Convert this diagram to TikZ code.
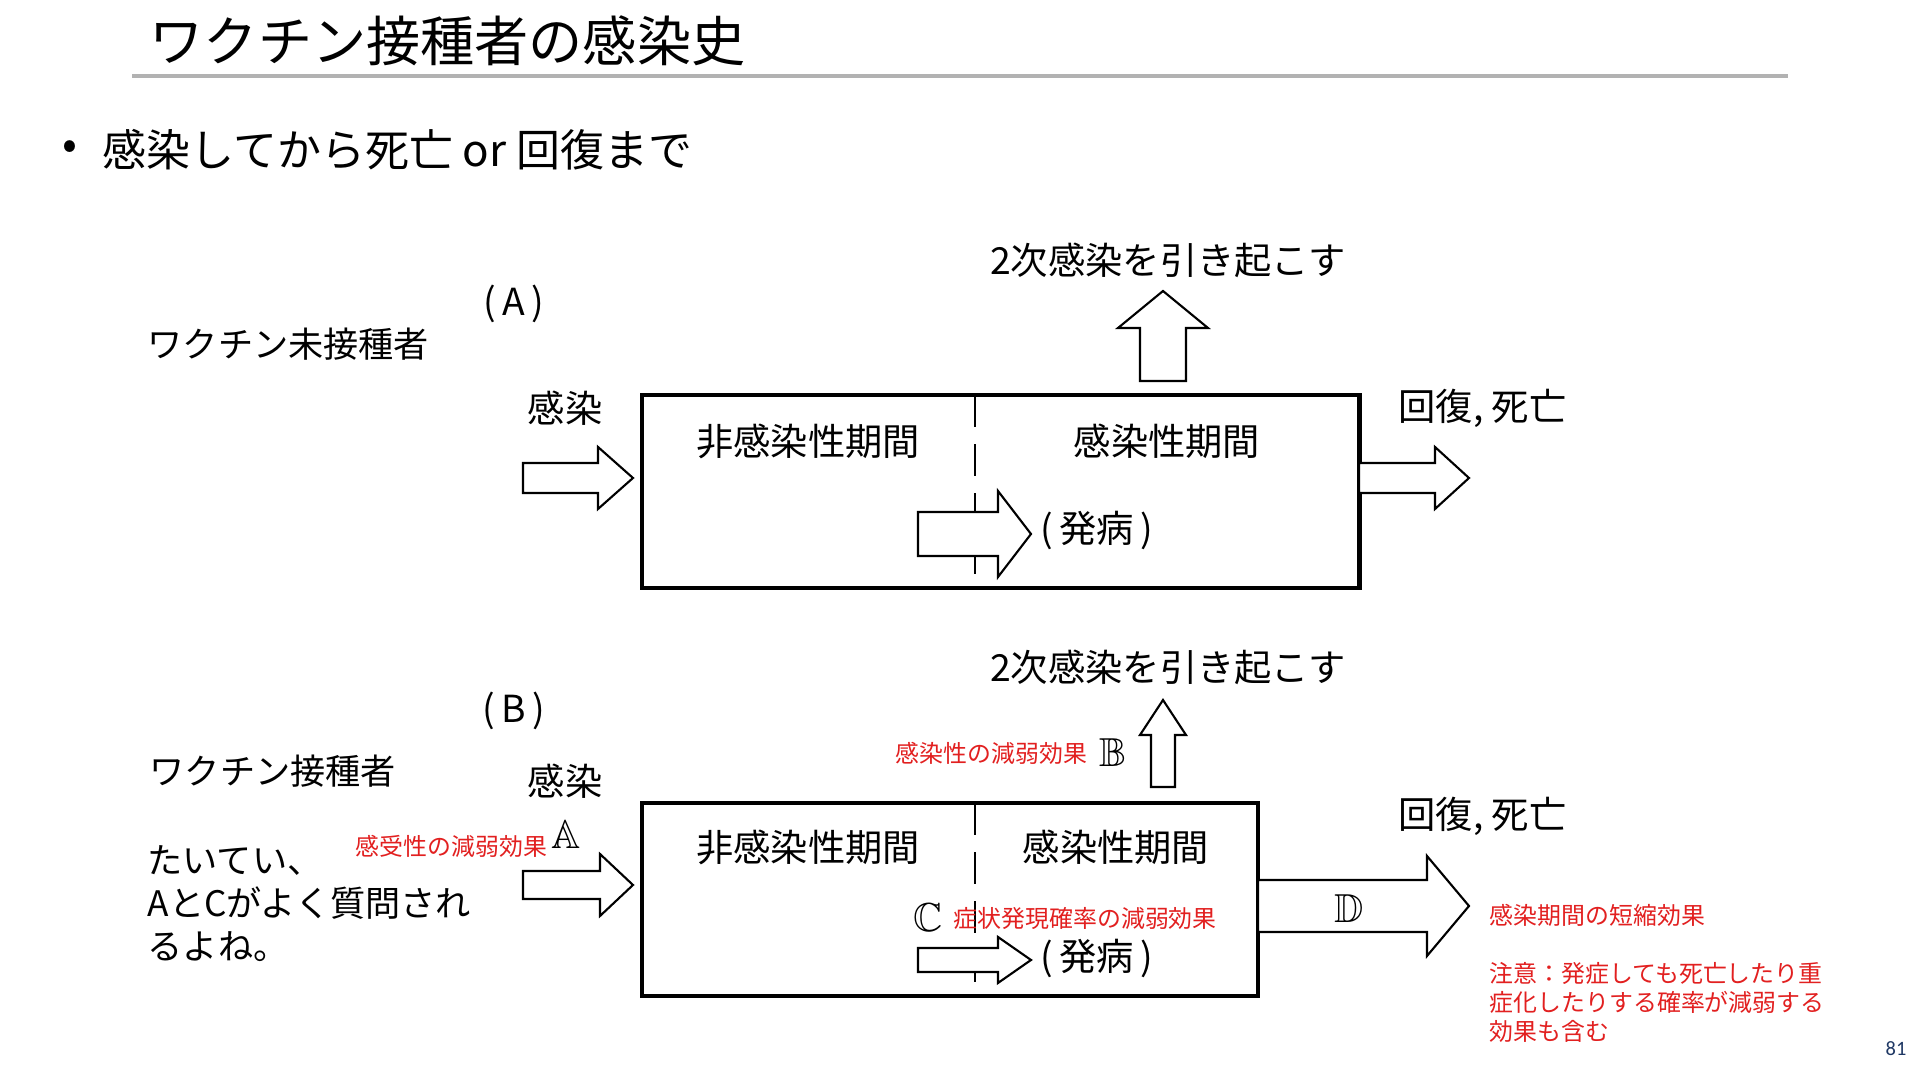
\documentclass[tikz,border=0pt]{standalone}
\usepackage{amssymb}
\usepackage{fontspec}
\setmainfont{Noto Sans CJK JP}
\newfontfamily\pagefont{Carlito}
\usetikzlibrary{positioning}
\definecolor{notered}{RGB}{226,32,32}
\definecolor{pagenum}{RGB}{31,56,100}

% hollow block arrows: start, head base, tip, centre, body half width, head half width
\newcommand{\hblockarrow}[6]{%
  \draw[blockarrow] (#1,#4-#5) -- (#2,#4-#5) -- (#2,#4-#6) -- (#3,#4) -- (#2,#4+#6) -- (#2,#4+#5) -- (#1,#4+#5) -- cycle;}
\newcommand{\vblockarrow}[6]{%
  \draw[blockarrow] (#1-#5,#2) -- (#1-#5,#3) -- (#1-#6,#3) -- (#1,#4) -- (#1+#6,#3) -- (#1+#5,#3) -- (#1+#5,#2) -- cycle;}

\begin{document}
\begin{tikzpicture}[x=0.01cm, y=-0.01cm,
    period/.style={rectangle, draw=black, line width=1.3pt, inner sep=0pt, minimum height=1.93cm},
    blockarrow/.style={draw=black, fill=white, line width=0.6pt, line join=miter},
    label/.style={inner sep=0pt, font=\fontsize{10.6}{12}\selectfont},
    note/.style={inner sep=0pt, text=notered, font=\fontsize{6.8}{8.25}\selectfont, anchor=west, align=left},
    letter/.style={inner sep=0pt, font=\fontsize{11.5}{12}\selectfont}
]
\fill[white] (0,0) rectangle (1920,1080);

% Title
\node[anchor=west, inner sep=0pt, font=\fontsize{15.4}{18}\selectfont] (title) at (149,41) {ワクチン接種者の感染史};
\draw[gray!60, line width=0.9pt] (132,76) -- (1788,76);
\node[inner sep=0pt, font=\fontsize{12.5}{14}\selectfont] (dot) at (70,150) {•};
\node[anchor=west, inner sep=0pt, font=\fontsize{12.5}{14}\selectfont] (bullet) at (102,150) {感染してから死亡 or 回復まで};

% (A) unvaccinated
\node[label] (labA) at (514,304) {(\,A\,)};
\node[label, anchor=west, font=\fontsize{10}{12}\selectfont] (unvac) at (147,344) {ワクチン未接種者};
\node[period, minimum width=7.17cm] (boxA) at (1000.5,491.5) {};
\draw[line width=0.5pt, dash pattern=on 9pt off 5pt] (975,395) -- (975,588);
\node[label] (nonA) at (808,441) {非感染性期間};
\node[label] (infA) at (1167,441) {感染性期間};
\node[label] (infectA) at (565,408) {感染};
\node[label, anchor=west] (outA) at (1398,408) {回復, 死亡};
\node[label] (secA) at (1168,260) {2次感染を引き起こす};
\hblockarrow{523}{598}{633}{478}{15}{31}
\hblockarrow{1359}{1435}{1469}{478}{15}{31}
\hblockarrow{918}{998}{1031}{534}{22}{43}
\vblockarrow{1163}{381}{328}{291}{23}{45}
\node[label, anchor=west] (onsetA) at (1040,531) {(\,発病\,)};

% (B) vaccinated
\node[label] (labB) at (514,711) {(\,B\,)};
\node[label, anchor=west, font=\fontsize{10}{12}\selectfont] (vac) at (149,771) {ワクチン接種者};
\node[label, anchor=west, align=left, font=\fontsize{10}{12.2}\selectfont] (memo) at (147,904) {たいてい、\\AとCがよく質問され\\るよね。};
\node[period, minimum width=6.16cm] (boxB) at (950,899.5) {};
\draw[line width=0.5pt, dash pattern=on 9pt off 5pt] (975,803) -- (975,996);
\node[label] (nonB) at (808,847) {非感染性期間};
\node[label] (infB) at (1116,847) {感染性期間};
\node[label] (infectB) at (565,781) {感染};
\node[label, anchor=west] (outB) at (1398,816) {回復, 死亡};
\node[label] (secB) at (1168,667) {2次感染を引き起こす};
\hblockarrow{523}{600}{633}{885}{14}{31}
\hblockarrow{918}{998}{1031}{960}{12}{23}
\vblockarrow{1163}{787}{735}{700}{12}{23}
\hblockarrow{1258}{1427}{1469}{906}{26}{50}
\node[label, anchor=west] (onsetB) at (1040,959) {(\,発病\,)};

% effects
\node[letter] (effA) at (566,835) {$\mathbb{A}$};
\node[note, anchor=east] (suscep) at (548,846) {感受性の減弱効果};
\node[letter] (effB) at (1113,753) {$\mathbb{B}$};
\node[note, anchor=east] (infect) at (1088,753) {感染性の減弱効果};
\node[letter] (effC) at (928,918) {$\mathbb{C}$};
\node[note] (sympt) at (953,918) {症状発現確率の減弱効果};
\node[letter] (effD) at (1349,909) {$\mathbb{D}$};
\node[note] (shorten) at (1489,915) {感染期間の短縮効果};
\node[note] (caution) at (1489,1002) {注意：発症しても死亡したり重\\症化したりする確率が減弱する\\効果も含む};

% page number
\node[inner sep=0pt, text=pagenum, font=\pagefont\fontsize{5.8}{7}\selectfont] (page) at (1896,1049) {81};
\end{tikzpicture}
\end{document}
